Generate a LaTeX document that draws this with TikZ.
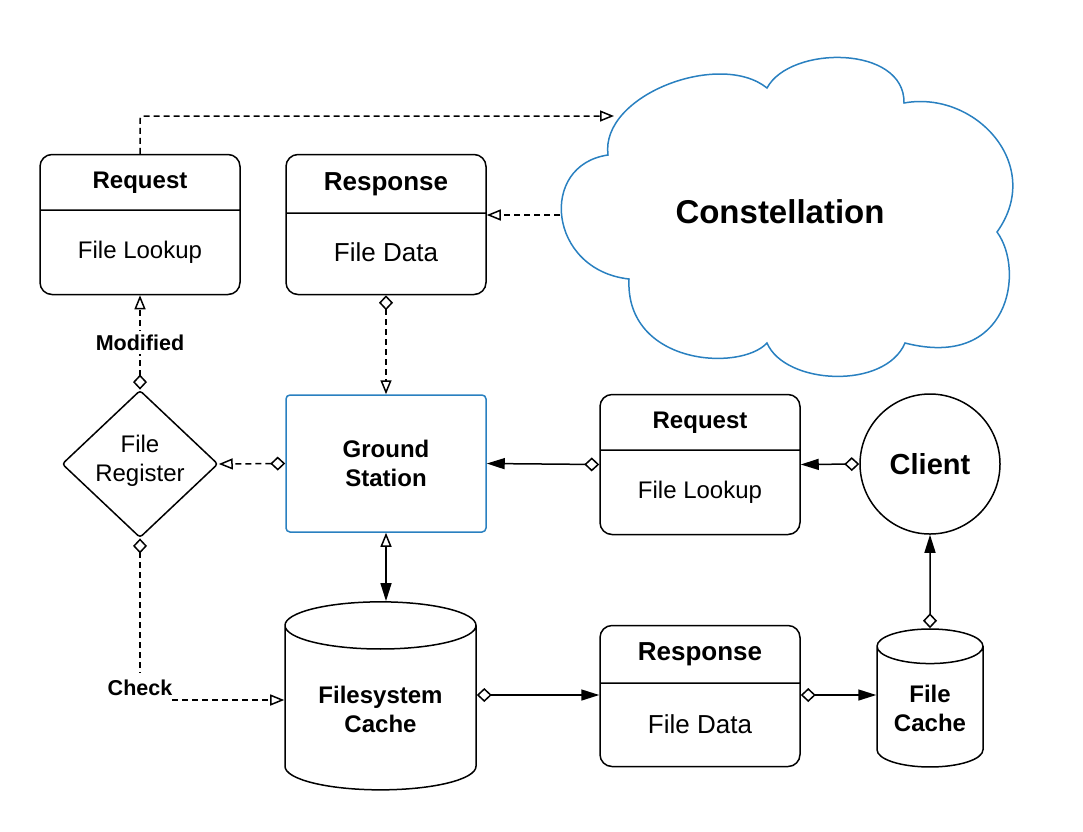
\documentclass[tikz,border=0pt]{standalone}
\usepackage{fontspec}
\setmainfont{Liberation Sans}
\usetikzlibrary{arrows.meta,shapes.geometric,shapes.multipart}

\definecolor{cloudblue}{RGB}{41,128,192}
\newcommand{\boxpart}[2]{\parbox[c][#1][c]{200pt}{\centering #2}}
\newcommand{\movetext}[2]{\raisebox{#1}[\height][\depth]{\begin{tabular}{@{}c@{}}#2\end{tabular}}}

\begin{document}
\begin{tikzpicture}[x=1pt,y=-1pt,line width=1.5pt]
    %
    % `msg' is used for the two part request / response boxes.
    % `store' is used for the cylinders.
    % `dashline' and `flow' are used for the connectors.
    % `lbl' is used for the texts on the connectors.
    \tikzstyle{msg} = [draw,rectangle split,rectangle split parts=2,rounded corners=12pt,inner sep=0pt,font=\fontsize{24}{28}\selectfont]
    \tikzstyle{store} = [draw,cylinder,shape border rotate=90,inner sep=0pt,align=center,font=\fontsize{24}{29}\selectfont\bfseries]
    \tikzstyle{decision} = [draw,diamond,rounded corners=3pt,minimum width=156pt,minimum height=138pt,inner sep=0pt,align=center,font=\fontsize{24}{29}\selectfont]
    \tikzstyle{dashline} = [dash pattern=on 6pt off 4pt,{Diamond[open,length=15pt,width=14pt]}-{Triangle[open,length=14pt,width=11pt]}]
    \tikzstyle{flow} = [{Diamond[open,length=15pt,width=14pt]}-{Triangle[length=18pt,width=11pt]}]
    \tikzstyle{lbl} = [fill=white,inner xsep=0pt,font=\fontsize{21.5}{25}\selectfont\bfseries]
    %
    \useasboundingbox (0,0) rectangle (1083,831);
    %
    % Cloud
    \draw[cloudblue] (608,155) .. controls (600,95) and (720,50) .. (767,88)
        .. controls (790,45) and (905,45) .. (904,103)
        .. controls (975,90) and (1045,165) .. (997,232)
        .. controls (1025,270) and (1010,370) .. (905,343)
        .. controls (885,390) and (785,385) .. (767,343)
        .. controls (740,372) and (625,365) .. (629,279)
        .. controls (548,270) and (538,165) .. cycle;
    \node[font=\fontsize{33}{38}\selectfont\bfseries] (const) at (780,212) {Constellation};
    \coordinate (cin) at (614,116);
    \coordinate (cout) at (560,215);
    %
    % Row 1
    \node[msg] (req1) at (140,224.5) {\boxpart{54pt}{\bfseries Request}\nodepart{two}\boxpart{83pt}{File Lookup}};
    \node[msg,font=\fontsize{26}{30}\selectfont] (resp1) at (386,224.5) {\boxpart{57pt}{\bfseries Response}\nodepart{two}\boxpart{80pt}{\raisebox{3pt}{File Data}}};
    %
    % Row 2
    \node[decision] (reg) at (140,464) {\movetext{3pt}{File\\Register}};
    \node[draw=cloudblue,rounded corners=4pt,minimum width=200pt,minimum height=137pt,align=center,font=\fontsize{24}{29}\selectfont\bfseries] (gs) at (386,463.5) {Ground\\Station};
    \node[msg] (req2) at (700,464.5) {\boxpart{54pt}{\bfseries Request}\nodepart{two}\boxpart{83pt}{File Lookup}};
    \node[draw,circle,minimum size=140pt,inner sep=0pt,font=\fontsize{29}{33}\selectfont\bfseries] (client) at (930,464) {Client};
    %
    % Row 3
    \coordinate (row3) at (0,695);
    \node[store,aspect=0.38,minimum width=191pt,minimum height=188pt] (fsc) at (380.5,708) {\movetext{-4pt}{Filesystem\\Cache}};
    \node[msg,font=\fontsize{26}{30}\selectfont] (resp2) at (700,696) {\boxpart{56pt}{\bfseries Response}\nodepart{two}\boxpart{82pt}{\raisebox{2pt}{File Data}}};
    \node[store,aspect=0.48,minimum width=106pt,minimum height=138pt] (fc) at (930,707) {\movetext{-4pt}{File\\Cache}};
    %
    % Connectors
    \draw[dashline,-{Triangle[open,length=14pt,width=11pt]},rounded corners=3pt] (req1.north) |- (cin);
    \draw[dashline,-{Triangle[open,length=14pt,width=11pt]}] (cout) -- (resp1.east |- cout);
    \draw[dashline] (resp1.south) -- (gs.north);
    \draw[dashline] (gs.west) -- (reg.east);
    \draw[dashline] (reg.north) -- (req1.south) node[lbl,pos=0.5] (mod) {Modified};
    \draw[dashline] (reg.south) |- ([yshift=8pt]fsc.west) node[lbl,pos=0.5,yshift=12pt,minimum height=30pt] (chk) {Check};
    \draw[{Triangle[open,length=14pt,width=11pt]}-{Triangle[length=18pt,width=11pt]}] (gs.south) -- (gs.south |- fsc.north);
    \draw[flow] (fsc.east |- row3) -- (resp2.west |- row3);
    \draw[flow] (resp2.east |- row3) -- (fc.west |- row3);
    \draw[flow] (fc.north) -- (client.south);
    \draw[flow] (client.west) -- (req2.east);
    \draw[flow] (req2.west) -- (gs.east);
\end{tikzpicture}
\end{document}
